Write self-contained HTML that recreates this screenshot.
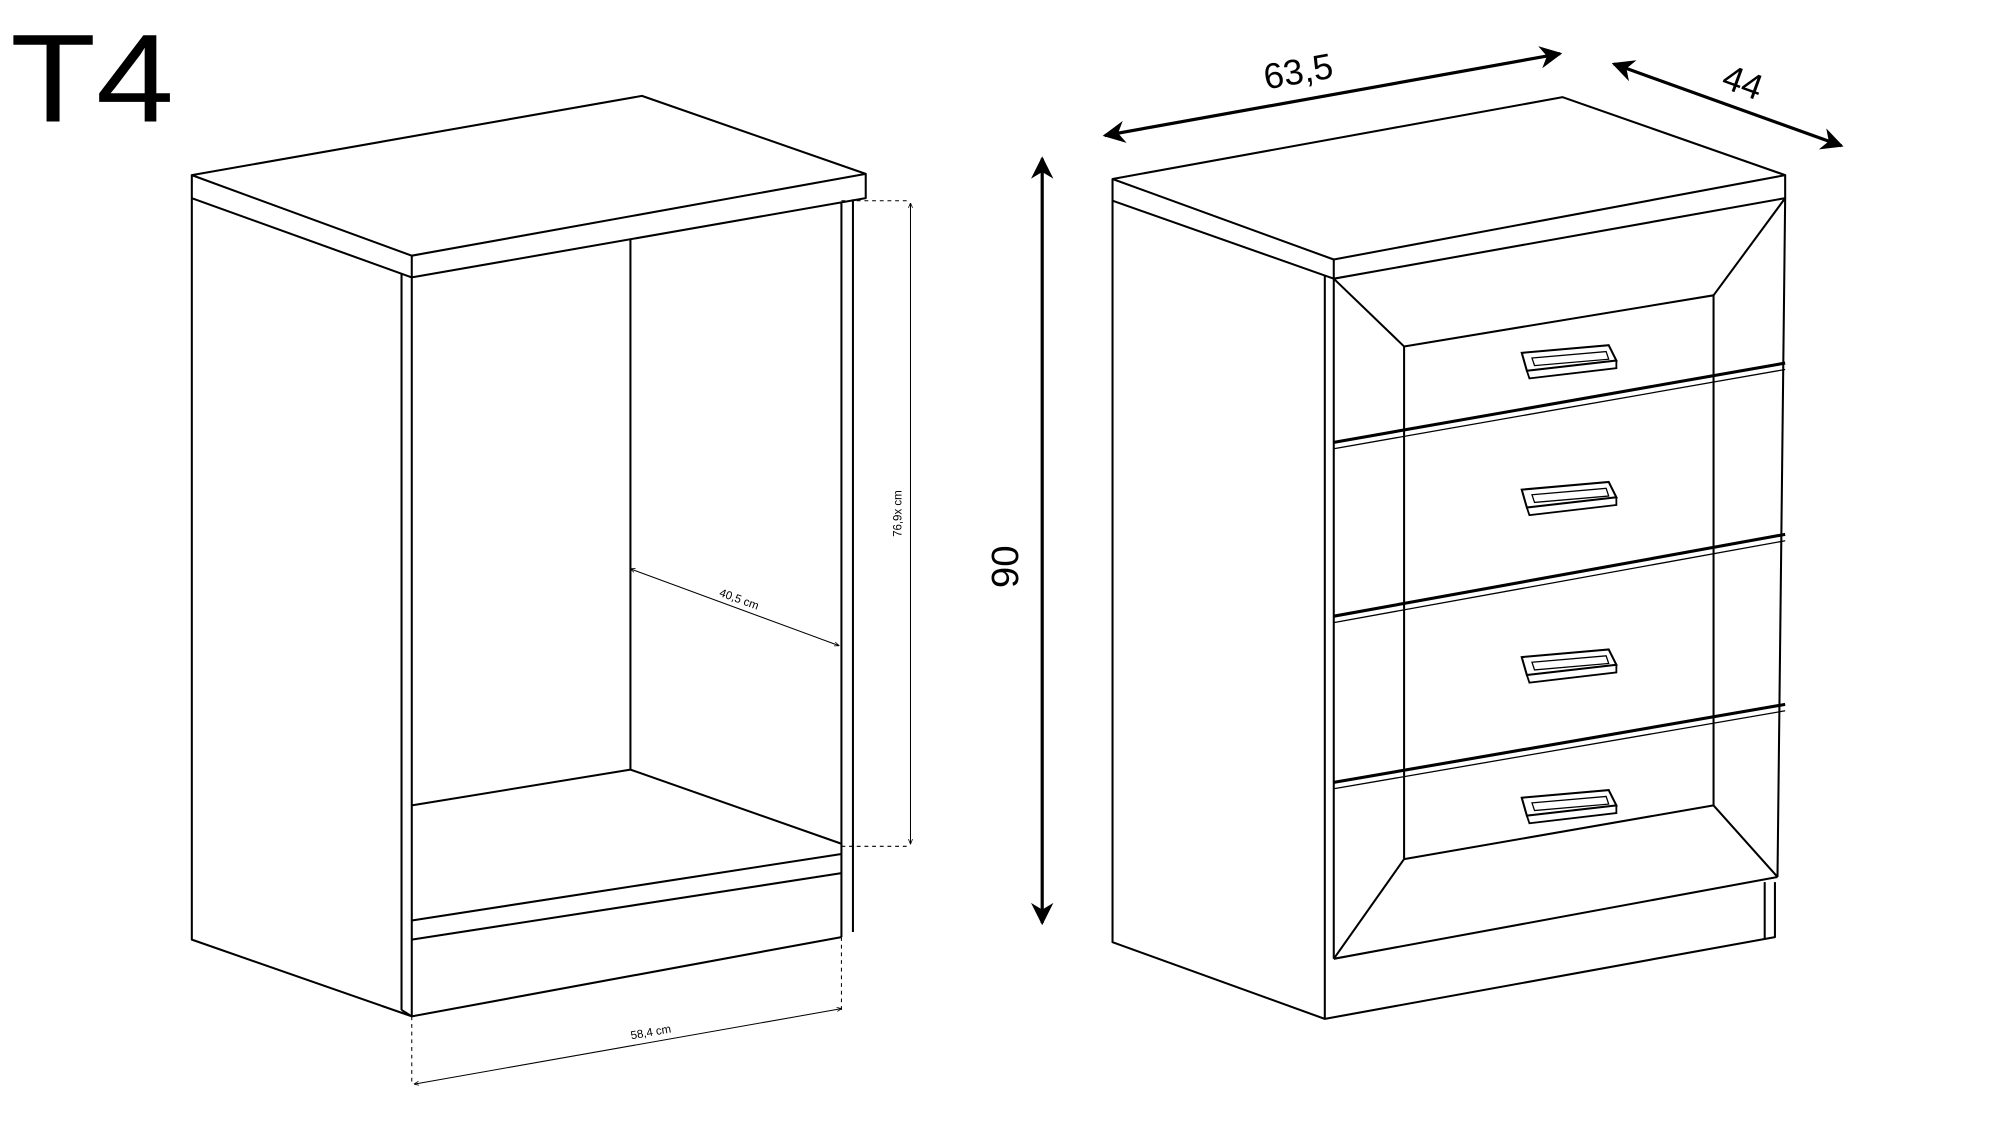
<!DOCTYPE html>
<html><head><meta charset="utf-8"><style>
html,body{margin:0;padding:0;background:#fff;}
svg{display:block;}
text{font-family:"Liberation Sans",sans-serif;fill:#000;}
</style></head><body>
<svg width="2000" height="1125" viewBox="0 0 1564 880" preserveAspectRatio="none" xmlns="http://www.w3.org/2000/svg">
<defs>
<marker id="ar" viewBox="0 0 10 10" refX="9" refY="5" markerWidth="7" markerHeight="7" orient="auto-start-reverse"><path d="M0,0 L10,5 L0,10 L3,5 z" fill="#000"/></marker>
<marker id="sm" viewBox="0 0 10 10" refX="9" refY="5" markerWidth="5" markerHeight="5" orient="auto-start-reverse"><path d="M0,1 L10,5 L0,9" fill="none" stroke="#000" stroke-width="1.5"/></marker>
<g id="h"><path d="M-38,-8 L30,-14 L36,-2 L-34,6 Z" fill="none" stroke="#000" stroke-width="1.6"/><path d="M-30,-4 L28,-9 L30,-3 L-28,2 Z" fill="none" stroke="#000" stroke-width="1"/><path d="M-34,6 L-32,12 L36,4 L36,-2" fill="none" stroke="#000" stroke-width="1.4"/></g>
</defs>
<text x="0" y="0" font-size="98" transform="translate(8,95) scale(1.12,1)">T4</text>
<g fill="none" stroke="#000" stroke-width="1.6" stroke-linejoin="round">
<polygon points="150,137 502,75 677,136 322,200" fill="#fff"/>
<polyline points="150,137 150,155 322,217 677,155 677,136"/>
<line x1="322" y1="200" x2="322" y2="217"/>
<polyline points="150,155 150,735 322,795 658,733"/>
<line x1="314" y1="214" x2="314" y2="790"/>
<line x1="322" y1="217" x2="322" y2="795"/>
<line x1="658" y1="159" x2="658" y2="733"/>
<line x1="667" y1="156" x2="667" y2="729"/>
<line x1="493" y1="187" x2="493" y2="602"/>
<polyline points="322,630 493,602 658,660"/>
<line x1="322" y1="720" x2="658" y2="668"/>
<line x1="322" y1="735" x2="658" y2="683"/>
<line x1="314" y1="790" x2="322" y2="795"/>
</g>
<g fill="none" stroke="#000" stroke-width="0.8" stroke-dasharray="3,3">
<line x1="658" y1="157" x2="712" y2="157"/>
<line x1="658" y1="662" x2="712" y2="662"/>
<line x1="322" y1="795" x2="322" y2="848"/>
<line x1="658" y1="733" x2="658" y2="790"/>
</g>
<g stroke="#000" stroke-width="0.8" fill="none">
<line x1="712" y1="159" x2="712" y2="660" marker-start="url(#sm)" marker-end="url(#sm)"/>
<line x1="493" y1="445" x2="656" y2="505" marker-start="url(#sm)" marker-end="url(#sm)"/>
<line x1="324" y1="848" x2="658" y2="789" marker-start="url(#sm)" marker-end="url(#sm)"/>
</g>
<text x="0" y="0" font-size="9" transform="translate(705,420) rotate(-90)">76,9x cm</text>
<text x="0" y="0" font-size="9" transform="translate(562,466) rotate(20)">40,5 cm</text>
<text x="493" y="811" font-size="9" transform="rotate(-10 505 808)">58,4 cm</text>
<line x1="815" y1="124" x2="815" y2="722" stroke="#000" stroke-width="2.5" marker-start="url(#ar)" marker-end="url(#ar)"/>
<text font-size="30" transform="translate(796,460) rotate(-90)">90</text>
<line x1="864" y1="106" x2="1220" y2="42" stroke="#000" stroke-width="2.5" marker-start="url(#ar)" marker-end="url(#ar)"/>
<text font-size="28" transform="translate(990,70) rotate(-10)">63,5</text>
<line x1="1262" y1="50" x2="1440" y2="114" stroke="#000" stroke-width="2.5" marker-start="url(#ar)" marker-end="url(#ar)"/>
<text font-size="28" transform="translate(1345,68) rotate(20)">44</text>
<g fill="none" stroke="#000" stroke-width="1.6" stroke-linejoin="round">
<polygon points="870,140 1222,76 1396,137 1043,203"/>
<polyline points="870,140 870,157 1043,218 1396,155 1396,137"/>
<line x1="1043" y1="203" x2="1043" y2="218"/>
<polyline points="870,157 870,737 1036,797 1388,733 1388,690"/>
<line x1="1036" y1="216" x2="1036" y2="797"/>
<line x1="1043" y1="218" x2="1043" y2="750"/>
<line x1="1043" y1="750" x2="1390" y2="686"/>
<line x1="1396" y1="155" x2="1390" y2="686"/>
<line x1="1380" y1="690" x2="1380" y2="735"/>
<polygon points="1098,271 1340,231 1340,630 1098,672"/>
<line x1="1043" y1="218" x2="1098" y2="271"/>
<line x1="1396" y1="155" x2="1340" y2="231"/>
<line x1="1390" y1="686" x2="1340" y2="630"/>
<line x1="1043" y1="750" x2="1098" y2="672"/>
</g>
<g stroke="#000" fill="none">
<line x1="1043" y1="346" x2="1396" y2="284" stroke-width="2.4"/>
<line x1="1043" y1="351" x2="1396" y2="289" stroke-width="1"/>
<line x1="1043" y1="482" x2="1396" y2="418" stroke-width="2.4"/>
<line x1="1043" y1="487" x2="1396" y2="423" stroke-width="1"/>
<line x1="1043" y1="612" x2="1396" y2="551" stroke-width="2.4"/>
<line x1="1043" y1="617" x2="1396" y2="556" stroke-width="1"/>
</g>
<use href="#h" x="1228" y="284"/>
<use href="#h" x="1228" y="391"/>
<use href="#h" x="1228" y="522"/>
<use href="#h" x="1228" y="632"/>
</svg>
</body></html>
